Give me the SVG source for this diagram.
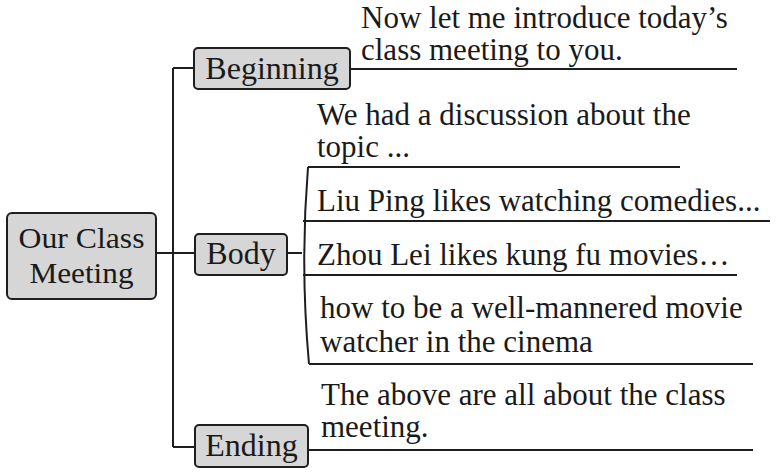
<svg xmlns="http://www.w3.org/2000/svg" width="784" height="474" viewBox="0 0 784 474">
<style>
.box{fill:#d6d6d6;stroke:#1e1e1e;stroke-width:2}
.ln{fill:none;stroke:#1e1e1e;stroke-width:2}
text{font-family:"Liberation Serif","Times New Roman",serif;font-size:31px;fill:#1a1a1a}
.nd{font-size:32px}
.rt{font-size:30px}
</style>
<rect width="784" height="474" fill="#ffffff"/>
<g id="connectors">
<path class="ln" d="M173 68 V447"/>
<path class="ln" d="M173 68 H194"/>
<path class="ln" d="M156 253 H195"/>
<path class="ln" d="M173 447 H195"/>
<path class="ln" d="M350 69 H737"/>
<path class="ln" d="M287 253 H302"/>
<path class="ln" d="M308 167 Q300 265 309 364"/>
<path class="ln" d="M308 167 H680"/>
<path class="ln" d="M303 221 H770"/>
<path class="ln" d="M303 275 H737"/>
<path class="ln" d="M309 364 H753"/>
<path class="ln" d="M308 450 H753"/>
</g>
<g id="root">
<rect class="box" x="7" y="213" width="149" height="86" rx="5"/>
<text class="nd rt" x="81.5" y="248" text-anchor="middle" textLength="126" lengthAdjust="spacingAndGlyphs">Our Class</text>
<text class="nd rt" x="81.5" y="283" text-anchor="middle" textLength="104" lengthAdjust="spacingAndGlyphs">Meeting</text>
</g>
<g id="beginning">
<rect class="box" x="194" y="48" width="156" height="41" rx="4"/>
<text class="nd" x="272" y="79" text-anchor="middle">Beginning</text>
</g>
<g id="body">
<rect class="box" x="195" y="234" width="92" height="41" rx="4"/>
<text class="nd" x="241" y="264" text-anchor="middle">Body</text>
</g>
<g id="ending">
<rect class="box" x="195" y="425" width="113" height="42" rx="4"/>
<text class="nd" x="251.5" y="456" text-anchor="middle">Ending</text>
</g>
<g id="beginning-text">
<text x="361" y="28">Now let me introduce today’s</text>
<text x="361" y="60">class meeting to you.</text>
</g>
<g id="body-text">
<text x="317" y="125">We had a discussion about the</text>
<text x="317" y="157">topic ...</text>
<text x="317" y="211">Liu Ping likes watching comedies...</text>
<text x="317" y="265">Zhou Lei likes kung fu movies…</text>
<text x="320" y="318">how to be a well-mannered movie</text>
<text x="320" y="352">watcher in the cinema</text>
</g>
<g id="ending-text">
<text x="321" y="405">The above are all about the class</text>
<text x="321" y="437">meeting.</text>
</g>
</svg>
